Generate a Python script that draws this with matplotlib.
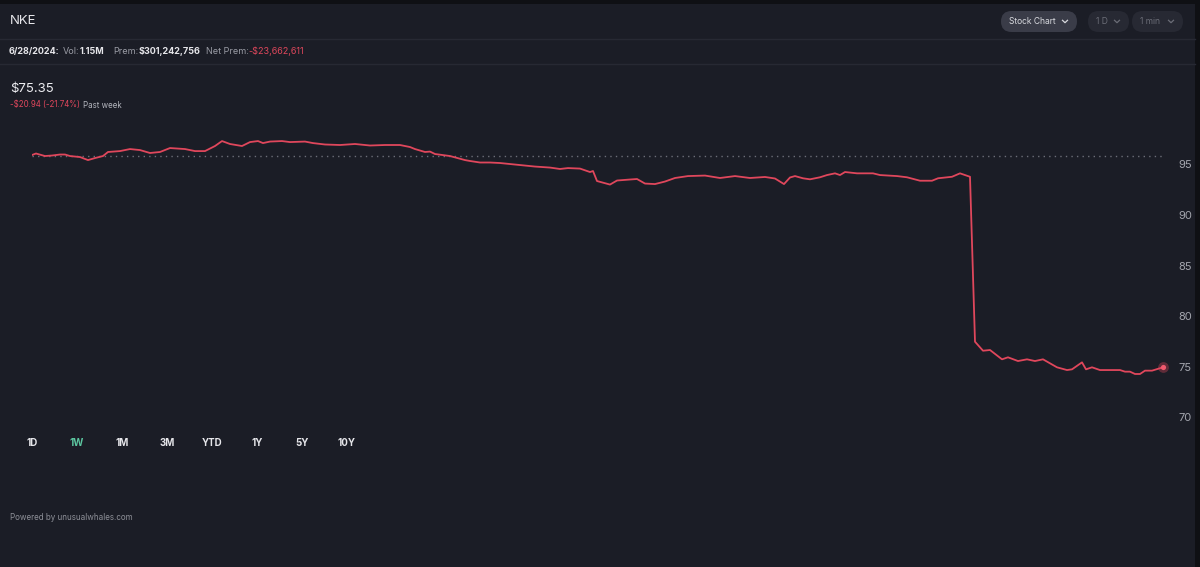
import matplotlib.pyplot as plt
from matplotlib.patches import FancyBboxPatch, Rectangle

plt.rcParams['font.family'] = ['Inter', 'DejaVu Sans']

# NKE, past week, price by bar
bars = [0, 4, 13, 20, 28, 33, 38, 48, 56, 63, 71, 76, 88, 98, 108, 118, 128, 138,
        153, 163, 173, 183, 190, 198, 210, 218, 226, 231, 238, 250, 258, 273, 281,
        293, 308, 323, 338, 353, 368, 378, 383, 393, 398, 403, 418, 433, 438, 448,
        458, 468, 488, 503, 518, 528, 536, 548, 558, 561, 565, 578, 585, 598, 605,
        613, 623, 633, 643, 656, 673, 688, 703, 718, 733, 743, 752, 758, 763, 771,
        778, 788, 795, 803, 808, 813, 825, 841, 848, 865, 875, 888, 900, 906, 920,
        928, 938, 943, 951, 958, 970, 976, 986, 995, 1003, 1011, 1025, 1035, 1040,
        1050, 1054, 1060, 1068, 1088, 1093, 1098, 1103, 1108, 1113, 1120, 1131]
price = [95.92, 96.07, 95.82, 95.87, 95.97, 95.97, 95.82, 95.72, 95.42, 95.62,
         95.82, 96.22, 96.31, 96.51, 96.41, 96.12, 96.22, 96.61, 96.51, 96.31,
         96.31, 96.81, 97.30, 97.01, 96.81, 97.20, 97.30, 97.10, 97.25, 97.30,
         97.20, 97.25, 97.10, 96.96, 96.91, 97.01, 96.86, 96.91, 96.91, 96.71,
         96.51, 96.22, 96.26, 96.02, 95.82, 95.42, 95.33, 95.18, 95.18, 95.13,
         94.93, 94.78, 94.68, 94.54, 94.63, 94.58, 94.24, 94.34, 93.35, 93.00,
         93.40, 93.50, 93.55, 93.10, 93.05, 93.30, 93.65, 93.84, 93.89, 93.65,
         93.84, 93.65, 93.75, 93.60, 93.05, 93.70, 93.84, 93.62, 93.52, 93.72,
         93.94, 94.11, 93.94, 94.24, 94.11, 94.11, 93.94, 93.84, 93.72, 93.38,
         93.38, 93.62, 93.77, 94.11, 93.77, 77.47, 76.58, 76.65, 75.73, 75.93,
         75.56, 75.73, 75.56, 75.73, 74.94, 74.67, 74.74, 75.43, 74.74, 74.94,
         74.67, 74.67, 74.51, 74.51, 74.28, 74.28, 74.61, 74.61, 74.94]
prev_close = 95.85
y_ticks = [70, 75, 80, 85, 90, 95]
ranges = ["1D", "1W", "1M", "3M", "YTD", "1Y", "5Y", "10Y"]

W, H = 1200, 567
BG = "#1b1d26"
LINE = "#e0475c"
RED = "#e0475c"
WHITE = "#e6e6ea"
GRAY = "#9a9ca5"

fig = plt.figure(figsize=(W / 100, H / 100), dpi=100, facecolor="#0f1014")

# decor layer in pixel coordinates (y down)
bg = fig.add_axes([0, 0, 1, 1], zorder=-1)
bg.set_xlim(0, W)
bg.set_ylim(H, 0)
bg.axis("off")
bg.add_patch(Rectangle((0, 4), 1195, H - 4, facecolor=BG, edgecolor="none"))
for yy in (39, 64):
    bg.plot([0, 1195], [yy, yy], color="#272933", lw=1)


def pill(x0, x1, y0, y1, fc, label, tc):
    r = (y1 - y0) / 2
    cy = (y0 + y1) / 2
    bg.add_patch(FancyBboxPatch((x0, y0), x1 - x0, y1 - y0,
                                boxstyle="round,pad=0,rounding_size=%f" % r,
                                facecolor=fc, edgecolor="none"))
    bg.text(x0 + 8, cy, label, color=tc, fontsize=6.1, va="center", ha="left")
    bg.plot([x1 - 14.5, x1 - 12, x1 - 9.5], [cy - 1.2, cy + 1.2, cy - 1.2],
            color=tc, lw=0.9)


pill(1001, 1077, 11, 32, "#3a3c48", "Stock Chart", "#d8d9de")
pill(1088, 1129, 11, 32, "#272933", "1 D", "#6b6d77")
pill(1132, 1183, 11, 32, "#272933", "1 min", "#6b6d77")

ax = fig.add_axes([32 / W, (H - 417.3) / H, (1163 - 32) / W, (417.3 - 136) / H])
ax.set_facecolor("none")
ax.plot(bars, price, color=LINE, lw=1.3, solid_joinstyle="round", zorder=3)
ax.axhline(prev_close, color="#6c6e78", lw=1, ls=(0, (1, 3)), zorder=2)
ax.scatter([bars[-1]], [price[-1]], s=60, color=LINE, alpha=0.35, zorder=4,
           linewidths=0, clip_on=False)
ax.scatter([bars[-1]], [price[-1]], s=14, color="#f05a6e", zorder=5,
           linewidths=0, clip_on=False)
ax.set_xlim(0, bars[-1])
ax.set_ylim(70, 97.8)
ax.set_yticks(y_ticks)
ax.yaxis.tick_right()
ax.tick_params(axis="y", length=0, pad=11, labelsize=8, labelcolor="#a4a6ae")
ax.set_xticks([])
for s in ax.spines.values():
    s.set_visible(False)

# header texts
bg.text(10, 21, "NKE", color=WHITE, fontsize=9.5, va="center", ha="left")

hdr = [("6/28/2024:", 9, WHITE, "bold"), ("Vol:", 63, GRAY, "normal"),
       ("1.15M", 80, WHITE, "bold"), ("Prem:", 113, GRAY, "normal"),
       ("$301,242,756", 139, WHITE, "bold"), ("Net Prem:", 206, GRAY, "normal"),
       ("-$23,662,611", 248, RED, "normal")]
for txt, x, c, w in hdr:
    bg.text(x, 51.5, txt, color=c, fontsize=6.5, fontweight=w, va="center", ha="left")

bg.text(10, 89, "$75.35", color="#ececf0", fontsize=9.5, va="center", ha="left")
bg.text(10, 105, "-$20.94 (-21.74%)", color=RED, fontsize=5.7, va="center", ha="left")
bg.text(83, 105, "Past week", color="#b4b6be", fontsize=5.7, va="center", ha="left")

# range selector
for i, r in enumerate(ranges):
    c = "#5cc6a0" if r == "1W" else WHITE
    bg.text(32 + 45 * i, 443, r, color=c, fontsize=7, fontweight="bold",
            va="center", ha="center")

bg.text(10, 517, "Powered by unusualwhales.com", color="#8e9098", fontsize=5.8,
        va="center", ha="left")

fig.savefig("out.png", dpi=100, facecolor=fig.get_facecolor())
